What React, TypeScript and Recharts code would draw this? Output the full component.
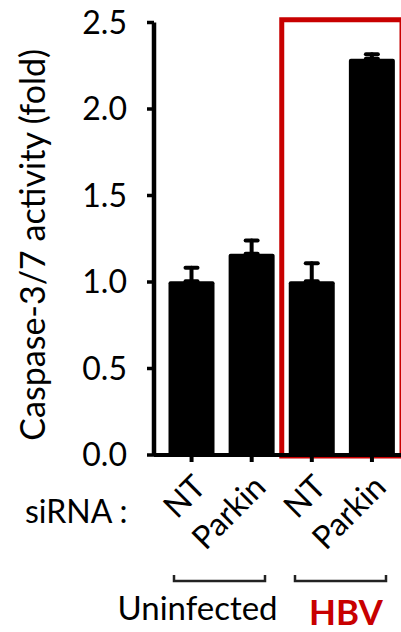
import React from "react";
import { BarChart, Bar, XAxis, YAxis, ErrorBar, ReferenceArea } from "recharts";

// ---- data ----
const categoryKeys = ["NT-U", "Parkin-U", "NT-H", "Parkin-H"];
const categoryLabels = ["NT", "Parkin", "NT", "Parkin"];
const caspaseFold = [1.005, 1.163, 1.005, 2.29];
const upperError = [0.078, 0.077, 0.104, 0.027];
const yTicks = [0, 0.5, 1.0, 1.5, 2.0, 2.5];
const groupNames = ["Uninfected", "HBV"];
const yAxisTitle = "Caspase-3/7 activity (fold)";
const rowTitle = "siRNA :";

const data = categoryKeys.map((k, i) => ({
  key: k,
  label: categoryLabels[i],
  value: caspaseFold[i],
  err: [0, upperError[i]],
}));

const FONT = "Lato, 'Liberation Sans', sans-serif";
const RED = "#c80000";

const XTick = (props: any) => {
  const { x, y, payload } = props;
  const idx = categoryKeys.indexOf(payload.value);
  const tx = x + 16;
  const ty = y + 27;
  return (
    <text
      x={tx}
      y={ty}
      transform={`rotate(-45 ${tx} ${ty})`}
      textAnchor="end"
      fontSize={32}
      fontFamily={FONT}
      fill="#000"
    >
      {categoryLabels[idx]}
    </text>
  );
};

const YLabel = (props: any) => {
  const vb = props.viewBox || { x: 0, y: 22.5, width: 154, height: 432.5 };
  const cx = vb.x + 45;
  const cy = vb.y + vb.height / 2 + 6;
  return (
    <text
      x={cx}
      y={cy}
      transform={`rotate(-90 ${cx} ${cy})`}
      textAnchor="middle"
      fontSize={34}
      fontFamily={FONT}
      fill="#000"
    >
      {yAxisTitle}
    </text>
  );
};

export default function App() {
  return (
    <div style={{ position: "absolute", left: 0, top: 0, width: 401, height: 632, background: "#fff", fontFamily: FONT }}>
      <BarChart
        width={401}
        height={632}
        data={data}
        margin={{ top: 22.5, right: 0, bottom: 0, left: 0 }}
      >
        <XAxis
          dataKey="key"
          height={177}
          padding={{ left: 7.5, right: -1 }}
          tick={<XTick />}
          tickSize={7}
          tickMargin={0}
          interval={0}
          axisLine={{ stroke: "#000", strokeWidth: 4 }}
          tickLine={{ stroke: "#000", strokeWidth: 4 }}
        />
        <YAxis
          width={154}
          domain={[0, 2.5]}
          ticks={yTicks}
          tickFormatter={(v: number) => v.toFixed(1)}
          tickSize={7}
          tickMargin={20}
          interval={0}
          allowDataOverflow
          axisLine={{ stroke: "#000", strokeWidth: 4.5 }}
          tickLine={{ stroke: "#000", strokeWidth: 3.5 }}
          tick={{ fontSize: 32, fontFamily: FONT, fill: "#000" }}
          label={<YLabel />}
        />
        <Bar dataKey="value" fill="#000" barSize={46} radius={[2, 2, 0, 0]} isAnimationActive={false}>
          <ErrorBar dataKey="err" width={6} strokeWidth={4} stroke="#000" strokeLinecap="round" direction="y" />
        </Bar>
        <ReferenceArea
          x1="NT-H"
          x2="Parkin-H"
          y1={-0.006}
          y2={2.516}
          fill="none"
          fillOpacity={0}
          stroke={RED}
          strokeWidth={5}
          ifOverflow="visible"
        />
      </BarChart>
      <svg
        width={401}
        height={632}
        style={{ position: "absolute", left: 0, top: 0, pointerEvents: "none" }}
      >
        <text x={25} y={523} fontSize={32} fontFamily={FONT} fill="#000">
          {rowTitle}
        </text>
        <g stroke="#222" strokeWidth={2.5} fill="none">
          <polyline points="174,575 174,581 265,581 265,575" />
          <polyline points="295,575 295,581 386,581 386,575" />
        </g>
        <text x={197.5} y={620} textAnchor="middle" fontSize={33} fontFamily={FONT} fill="#000">
          {groupNames[0]}
        </text>
        <text x={346} y={625} textAnchor="middle" fontSize={35} fontWeight="bold" fontFamily={FONT} fill={RED}>
          {groupNames[1]}
        </text>
      </svg>
    </div>
  );
}
